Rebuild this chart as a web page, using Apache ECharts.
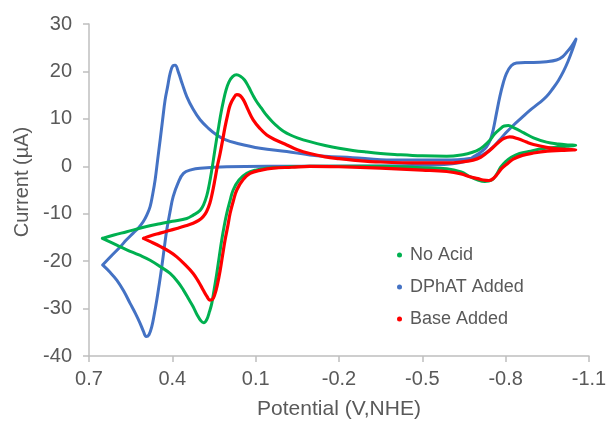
<!DOCTYPE html>
<html>
<head>
<meta charset="utf-8">
<script src="https://cdn.jsdelivr.net/npm/echarts@6/dist/echarts.min.js"></script>
<style>
html,body{margin:0;padding:0;background:#fff;}
#c{width:608px;height:422px;}
</style>
</head>
<body>
<div id="c"></div>
<script>
// ---- Data (potential in V vs NHE, current in µA), each loop in scan order ----
const seriesNames = ['No Acid', 'DPhAT Added', 'Base Added'];

const noAcidV = [0.652,0.60,0.564,0.52,0.48,0.44,0.408,0.38,0.36,0.34,0.325,0.31,0.297,0.287,0.276,0.266,0.258,0.249,0.24,0.231,0.222,0.213,0.204,0.192,0.181,0.16,0.132,0.1,0.06,0.0,-0.095,-0.2,-0.35,-0.5,-0.588,-0.64,-0.671,-0.70,-0.725,-0.75,-0.765,-0.782,-0.80,-0.82,-0.85,-0.89,-0.93,-0.98,-1.02,-1.052,
  -1.03,-0.99,-0.947,-0.90,-0.864,-0.83,-0.81,-0.795,-0.78,-0.76,-0.743,-0.72,-0.70,-0.683,-0.65,-0.588,-0.5,-0.4,-0.35,-0.3,-0.25,-0.2,-0.15,-0.095,-0.05,-0.025,0.0,0.02,0.04,0.06,0.08,0.095,0.11,0.125,0.14,0.155,0.169,0.183,0.196,0.207,0.216,0.225,0.233,0.241,0.249,0.258,0.267,0.276,0.288,0.3,0.325,0.348,0.4,0.444,0.5,0.564,0.61,0.652];
const noAcidI = [-15.2,-16.6,-17.6,-18.7,-19.8,-21.3,-22.6,-24.4,-26.1,-28.1,-29.6,-31.4,-32.6,-33.0,-32.3,-30.6,-28.9,-25.8,-22.6,-19.0,-15.5,-12.5,-9.9,-7.2,-5.0,-2.9,-1.5,-0.8,-0.4,-0.2,0,0,0,-0.3,-0.5,-1.2,-2.2,-2.9,-3.2,-2.9,-1.9,-0.2,1.0,1.9,2.7,3.2,3.7,4.0,4.2,4.4,
  4.5,4.7,5.1,6.0,7.1,8.1,8.6,8.5,7.9,6.8,5.5,4.2,3.4,3.0,2.5,2.1,2.2,2.5,2.7,3.0,3.35,3.8,4.4,5.2,6.0,6.6,7.4,8.3,9.4,10.7,12.3,13.5,15.0,16.7,18.2,19.0,19.3,18.9,17.8,16.0,13.8,11.2,8.4,5.6,2.6,-0.8,-3.8,-6.2,-8.2,-9.3,-10.3,-11.0,-11.6,-12.1,-12.8,-13.8,-14.5,-15.2];

const dphatV = [0.651,0.625,0.6,0.575,0.552,0.533,0.516,0.504,0.494,0.484,0.474,0.465,0.456,0.447,0.438,0.429,0.42,0.408,0.397,0.38,0.36,0.33,0.3,0.204,0.0,-0.3,-0.5,-0.6,-0.653,-0.69,-0.715,-0.731,-0.745,-0.755,-0.767,-0.779,-0.791,-0.803,-0.82,-0.839,-0.87,-0.9,-0.947,-0.983,-1.005,-1.019,-1.037,-1.053,
  -1.04,-1.025,-1.008,-0.99,-0.97,-0.947,-0.92,-0.887,-0.857,-0.827,-0.8,-0.779,-0.755,-0.731,-0.7,-0.65,-0.55,-0.45,-0.35,-0.25,-0.15,-0.095,-0.012,0.084,0.168,0.21,0.24,0.27,0.3,0.325,0.348,0.365,0.378,0.39,0.398,0.408,0.417,0.426,0.435,0.444,0.453,0.462,0.471,0.48,0.492,0.505,0.522,0.541,0.565,0.588,0.62,0.651];
const dphatI = [-20.8,-22.3,-24.0,-26.3,-28.9,-31.0,-33.1,-34.8,-35.9,-35.5,-33.8,-31.2,-28.2,-24.8,-21.2,-17.2,-13.4,-9.5,-6.4,-3.6,-1.5,-0.7,-0.4,-0.1,0,0.05,0.2,0.5,1.0,2.2,3.2,4.1,5.6,7.65,11.2,14.7,17.5,19.6,21.2,21.8,21.9,21.9,22.05,22.4,23.1,24.0,25.3,26.8,
  24.5,22.2,20.0,18.1,16.4,14.7,13.3,11.8,10.2,8.6,7.0,5.6,4.1,2.9,2.0,1.5,1.3,1.3,1.4,1.8,2.1,2.4,3.1,3.8,4.85,5.6,6.6,8.0,9.8,12.0,14.7,17.5,19.8,21.3,21.2,19.6,16.8,14.0,9.8,5.5,1.3,-2.9,-6.0,-8.5,-10.3,-11.7,-13.0,-14.1,-15.5,-17.0,-18.9,-20.8];

const baseV = [0.504,0.475,0.444,0.41,0.384,0.355,0.325,0.305,0.289,0.275,0.265,0.256,0.247,0.238,0.228,0.219,0.21,0.2,0.192,0.18,0.168,0.145,0.12,0.08,0.037,-0.03,-0.095,-0.2,-0.35,-0.5,-0.588,-0.64,-0.671,-0.7,-0.719,-0.74,-0.755,-0.768,-0.785,-0.805,-0.827,-0.86,-0.9,-0.95,-1.0,-1.052,
  -1.0,-0.947,-0.9,-0.875,-0.845,-0.815,-0.795,-0.779,-0.755,-0.731,-0.71,-0.683,-0.64,-0.588,-0.5,-0.35,-0.25,-0.2,-0.15,-0.095,-0.05,-0.012,0.03,0.06,0.085,0.109,0.128,0.144,0.156,0.168,0.18,0.192,0.201,0.21,0.219,0.228,0.238,0.247,0.256,0.265,0.277,0.289,0.305,0.325,0.355,0.384,0.414,0.444,0.475,0.504];
const baseI = [-15.2,-16.0,-16.9,-18.0,-19.1,-20.7,-22.6,-24.4,-26.1,-27.5,-28.2,-28.1,-27.0,-25.0,-22.0,-18.7,-15.5,-12.5,-9.9,-7.2,-5.0,-2.8,-1.5,-0.8,-0.4,-0.2,0,-0.1,-0.4,-0.8,-1.1,-1.6,-2.2,-2.6,-2.9,-3.0,-2.6,-1.8,-0.5,0.5,1.5,2.3,2.8,3.2,3.35,3.5,
  3.6,4.0,4.6,5.1,5.8,6.2,5.9,5.3,4.0,2.8,1.9,1.3,0.9,0.7,0.7,0.9,1.3,1.6,2.0,2.7,3.5,4.5,5.6,6.6,8.0,9.8,12.0,14.0,14.9,15.1,14.3,12.9,10.8,8.35,5.5,2.7,0,-2.9,-5.6,-7.8,-9.6,-10.6,-11.4,-12.0,-12.6,-13.1,-13.6,-14.1,-14.6,-15.2];

const xTicks = [0.7, 0.4, 0.1, -0.2, -0.5, -0.8, -1.1];
const yTicks = [-40, -30, -20, -10, 0, 10, 20, 30];

// ---- Chart ----
function zip(v, i) { return v.map((x, k) => [x, i[k]]); }
const txt = '#595959';
const axisGray = '#bfbfbf';
const fontFam = '"Liberation Sans", Arial, sans-serif';

const chart = echarts.init(document.getElementById('c'), null, { renderer: 'canvas' });
chart.setOption({
  animation: false,
  backgroundColor: '#ffffff',
  textStyle: { fontFamily: fontFam },
  grid: { left: 89, right: 19, top: 24, bottom: 66, containLabel: false, outerBoundsMode: 'none' },
  legend: {
    data: seriesNames,
    orient: 'vertical',
    left: 392,
    top: 241,
    itemGap: 14,
    itemWidth: 5,
    itemHeight: 5,
    icon: 'circle',
    textStyle: { fontSize: 18, color: txt, fontFamily: fontFam, padding: [0, 0, 0, 3] }
  },
  xAxis: {
    type: 'value',
    min: -1.1,
    max: 0.7,
    inverse: true,
    name: 'Potential (V,NHE)',
    nameLocation: 'middle',
    nameGap: 43,
    nameTextStyle: { fontSize: 21, color: txt, fontFamily: fontFam },
    axisLine: { show: true, onZero: false, lineStyle: { color: axisGray, width: 1.5 } },
    axisTick: { show: true, inside: false, length: 6, customValues: xTicks, lineStyle: { color: axisGray, width: 1.5 } },
    axisLabel: { show: true, margin: 13, fontSize: 20, color: txt, fontFamily: fontFam, customValues: xTicks,
      formatter: v => Number(v).toFixed(1) },
    splitLine: { show: false }
  },
  yAxis: {
    type: 'value',
    min: -40,
    max: 30,
    interval: 10,
    name: 'Current (µA)',
    nameLocation: 'middle',
    nameGap: 54,
    nameTextStyle: { fontSize: 20, color: txt, fontFamily: fontFam, padding: [0, 0, 0, 16] },
    axisLine: { show: true, onZero: false, lineStyle: { color: axisGray, width: 1.5 } },
    axisTick: { show: true, inside: false, length: 6, customValues: yTicks, lineStyle: { color: axisGray, width: 1.5 } },
    axisLabel: { show: true, margin: 17, fontSize: 20, color: txt, fontFamily: fontFam, customValues: yTicks },
    splitLine: { show: false }
  },
  series: [
    { name: seriesNames[1], type: 'line', data: zip(dphatV, dphatI), showSymbol: false, smooth: 0.4, z: 2,
      itemStyle: { color: '#4472C4' }, lineStyle: { color: '#4472C4', width: 3, cap: 'round', join: 'round' } },
    { name: seriesNames[0], type: 'line', data: zip(noAcidV, noAcidI), showSymbol: false, smooth: 0.4, z: 3,
      itemStyle: { color: '#00B050' }, lineStyle: { color: '#00B050', width: 3, cap: 'round', join: 'round' } },
    { name: seriesNames[2], type: 'line', data: zip(baseV, baseI), showSymbol: false, smooth: 0.4, z: 4,
      itemStyle: { color: '#FF0000' }, lineStyle: { color: '#FF0000', width: 3.2, cap: 'round', join: 'round' } }
  ]
});
</script>
</body>
</html>
